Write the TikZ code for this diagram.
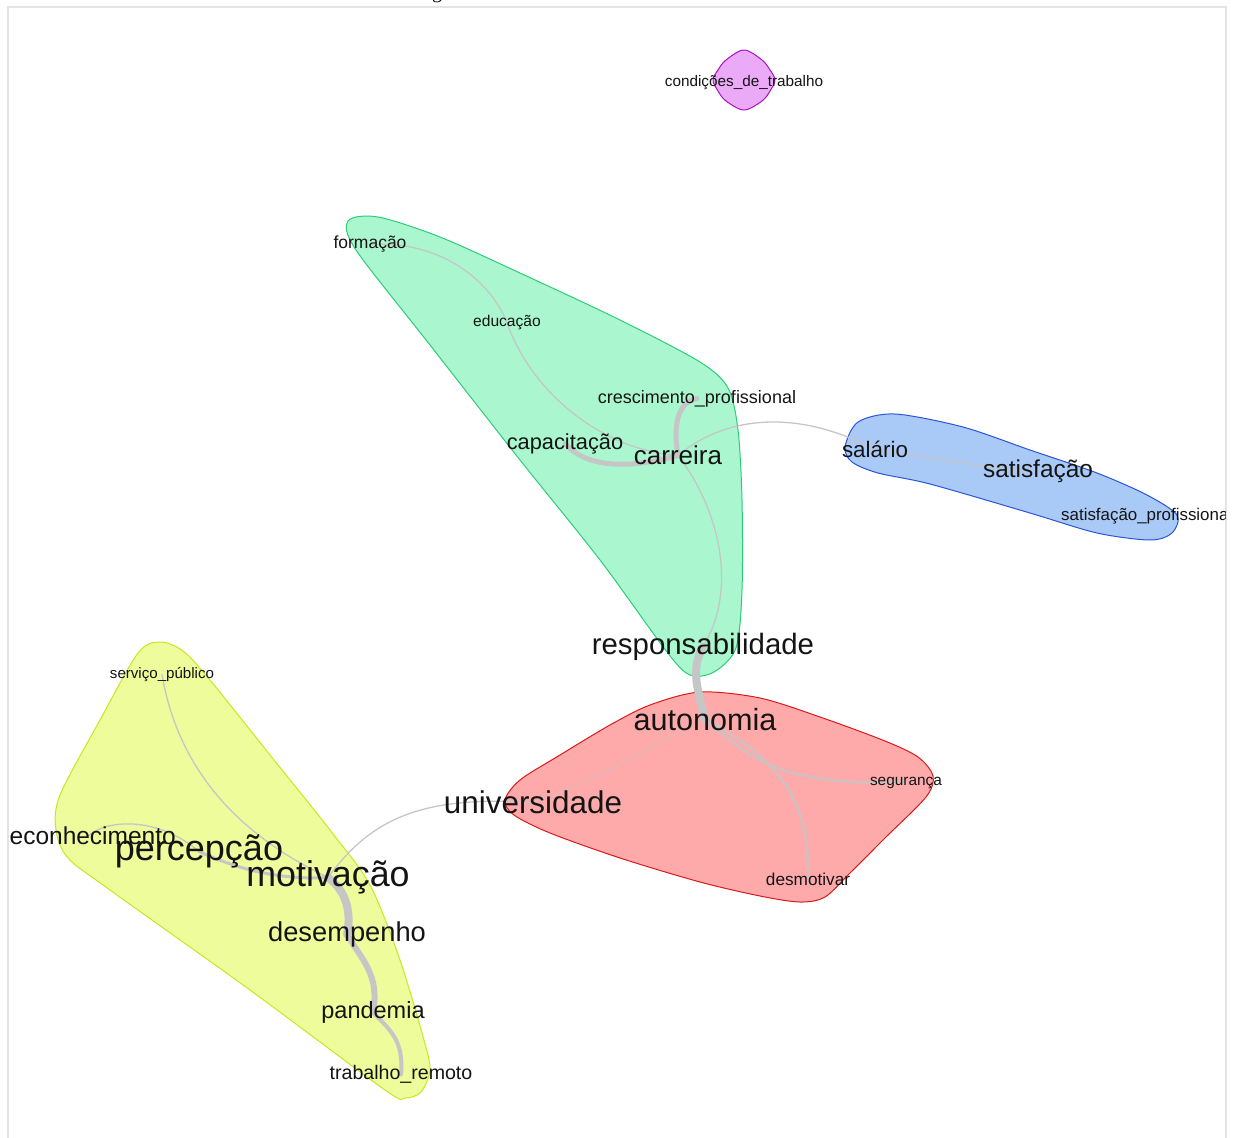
\documentclass[tikz,border=0pt]{standalone}
\usepackage{fontspec}
\setmainfont{Liberation Sans}
\newfontfamily\timesf{Liberation Serif}
\newcommand\fsz[1]{\fontsize{#1}{#1}\selectfont}
\pgfdeclarelayer{hulls}
\pgfdeclarelayer{links}
\pgfsetlayers{hulls,links,main}
\definecolor{framec}{HTML}{E4E4E4}
\definecolor{edgec}{HTML}{C6C6C6}
\definecolor{gfill}{HTML}{AAF7CF}
\definecolor{gline}{HTML}{2ECC7A}
\definecolor{bfill}{HTML}{A9C9F6}
\definecolor{bline}{HTML}{2A55D8}
\definecolor{rfill}{HTML}{FFAAAA}
\definecolor{rline}{HTML}{D81A1A}
\definecolor{yfill}{HTML}{EEFC9C}
\definecolor{yline}{HTML}{C8E81E}
\definecolor{mfill}{HTML}{EBAAF7}
\definecolor{mline}{HTML}{A812C8}
\definecolor{txt}{HTML}{141414}
\begin{document}
\begin{tikzpicture}[x=1pt,y=-1pt,
  lbl/.style={inner sep=0pt, text=txt, yshift=-2.5pt},
  hull/.style={line width=1pt, line join=round},
  lkthin/.style={draw=edgec, line width=1.3pt, line cap=round},
  lkmed/.style={draw=edgec, line width=3pt, line cap=round},
  lkthick/.style={draw=edgec, line width=6pt, line cap=round},
  lkfat/.style={draw=edgec, line width=8pt, line cap=round}]
\useasboundingbox (0,0) rectangle (1235,1138);
% frame
\draw[framec, line width=2pt] (8,1140) -- (8,7) -- (1226,7) -- (1226,1140);
% cut-off caption glyph at the top
\node[inner sep=0pt, anchor=base, font=\timesf\fsz{20}] (capg) at (437,-2) {g};

% hulls
\begin{pgfonlayer}{hulls}
\draw[hull, fill=mfill, draw=mline] plot[smooth cycle, tension=0.55] coordinates
  {(744,50) (762,60) (770,70) (775,80) (770,91) (762,101) (744,110) (726,101) (718,91) (713,80) (718,70) (726,60)};
\draw[hull, fill=gfill, draw=gline] plot[smooth cycle, tension=0.5] coordinates
  {(348,221) (378,217) (440,237) (520,273) (620,320) (700,362) (728,388) (738,430)
   (742,500) (742,590) (736,648) (714,672) (690,675) (667,652) (600,560) (520,460)
   (430,345) (356,250)};
\draw[hull, fill=bfill, draw=bline] plot[smooth cycle, tension=0.5] coordinates
  {(845,447) (858,422) (895,414) (963,427) (1030,450) (1097,473) (1147,495) (1177,515)
   (1172,533) (1150,540) (1097,533) (1030,513) (930,484) (878,473) (852,462)};
\draw[hull, fill=rfill, draw=rline] plot[smooth cycle, tension=0.5] coordinates
  {(700,692) (760,698) (820,717) (885,741) (918,757) (933,776) (926,797) (885,838)
   (850,873) (825,897) (800,902) (760,896) (700,882) (620,858) (550,833) (514,815)
   (505,800) (520,780) (560,755) (610,725) (650,705)};
\draw[hull, fill=yfill, draw=yline] plot[smooth cycle, tension=0.5] coordinates
  {(160,642) (183,651) (210,680) (270,755) (330,830) (370,885) (400,960) (424,1040)
   (430,1070) (421,1092) (405,1098) (385,1090) (250,990) (110,890) (68,858) (56,830)
   (60,795) (100,720) (138,653)};
\end{pgfonlayer}

% labels (clipped to the frame)
\begin{scope}
\clip (9,8) rectangle (1225,1138);
\node[lbl, font=\fsz{15.3}] (cond) at (744,80) {condições\_de\_trabalho};
\node[lbl, font=\fsz{17.5}] (form) at (370,242) {formação};
\node[lbl, font=\fsz{15.6}] (educ) at (507,320) {educação};
\node[lbl, font=\fsz{18}] (cresc) at (697,396) {crescimento\_profissional};
\node[lbl, font=\fsz{21.8}] (capac) at (565,441) {capacitação};
\node[lbl, font=\fsz{26}] (carr) at (678,453) {carreira};
\node[lbl, font=\fsz{22.4}] (sal) at (875,447) {salário};
\node[lbl, font=\fsz{24.4}] (satis) at (1038,469) {satisfação};
\node[lbl, font=\fsz{16.9}, anchor=west] (satprof) at (1061,514) {satisfação\_profissional};
\node[lbl, font=\fsz{29.4}] (resp) at (703,644) {responsabilidade};
\node[lbl, font=\fsz{30.6}] (auton) at (705,717) {autonomia};
\node[lbl, font=\fsz{31.4}] (univ) at (533,800) {universidade};
\node[lbl, font=\fsz{15.4}] (segur) at (906,780) {segurança};
\node[lbl, font=\fsz{17.2}] (desmot) at (808,877) {desmotivar};
\node[lbl, font=\fsz{15.1}] (serv) at (162,672) {serviço\_público};
\node[lbl, font=\fsz{24.5}, anchor=east] (recon) at (176,833) {reconhecimento};
\node[lbl, font=\fsz{36}] (perc) at (199,849) {percepção};
\node[lbl, font=\fsz{35.8}] (motiv) at (328,875) {motivação};
\node[lbl, font=\fsz{27.3}] (desemp) at (347,932) {desempenho};
\node[lbl, font=\fsz{23.5}] (pand) at (373,1010) {pandemia};
\node[lbl, font=\fsz{19.6}] (trab) at (401,1072) {trabalho\_remoto};
\end{scope}

% connectors
\begin{pgfonlayer}{links}
\draw[lkthin] (form.center) .. controls (440,240) and (490,280) .. (educ.center);
\draw[lkthin] (educ.center) .. controls (530,390) and (600,450) .. (carr.center);
\draw[lkthick, line width=5pt] (capac.center) .. controls (590,472) and (640,466) .. (carr.center);
\draw[lkthick, line width=5pt] (carr.center) .. controls (672,420) and (680,402) .. (cresc.center);
\draw[lkthin] (carr.center) .. controls (720,420) and (790,405) .. (sal.center);
\draw[lkthin] (sal.center) .. controls (950,460) and (1000,470) .. (satis.center);
\draw[lkthin] (carr.center) .. controls (720,510) and (738,590) .. (resp.center);
\draw[lkfat] (resp.center) .. controls (690,670) and (698,690) .. (auton.center);
\draw[lkmed, draw=edgec!80!rfill, line width=2.5pt] (auton.center) .. controls (760,770) and (800,785) .. (segur.center);
\draw[lkmed, draw=edgec!80!rfill, line width=2.5pt] (auton.center) .. controls (780,760) and (810,800) .. (desmot.center);
\draw[draw=edgec!50!rfill, line width=1.2pt] (auton.center) .. controls (660,740) and (600,780) .. (univ.center);
\draw[lkthin] (univ.center) .. controls (420,795) and (370,820) .. (motiv.center);
\draw[lkthin] (serv.center) .. controls (180,780) and (250,840) .. (motiv.center);
\draw[lkthin] (recon.center) .. controls (110,818) and (160,818) .. (perc.center);
\draw[lkmed] (perc.center) .. controls (240,870) and (280,880) .. (motiv.center);
\draw[lkfat] (motiv.center) .. controls (345,890) and (352,910) .. (desemp.center);
\draw[lkthick] (desemp.center) .. controls (362,960) and (380,975) .. (pand.center);
\draw[lkmed, line width=4pt] (pand.center) .. controls (390,1030) and (404,1040) .. (trab.center);
\end{pgfonlayer}
\end{tikzpicture}
\end{document}
